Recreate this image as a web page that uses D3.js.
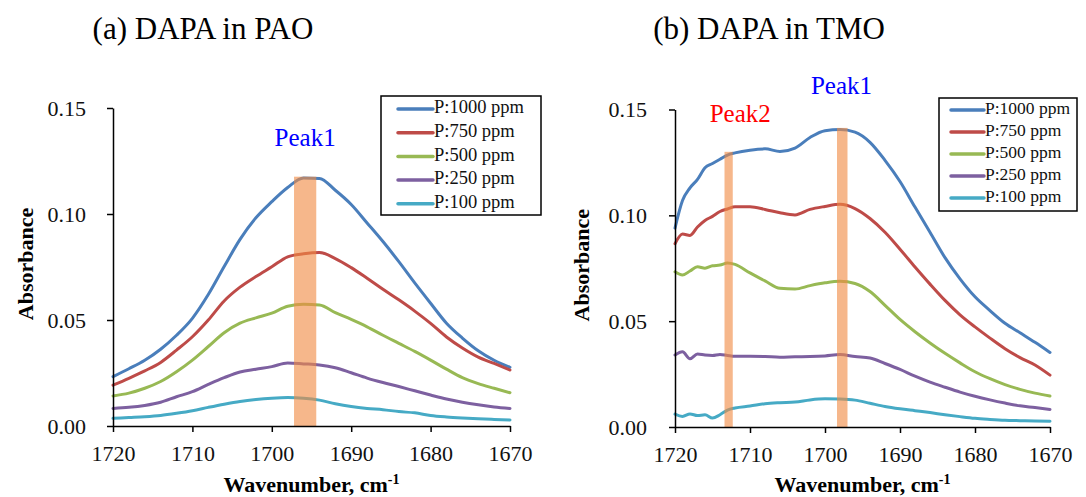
<!DOCTYPE html>
<html><head><meta charset="utf-8">
<script src="https://cdn.jsdelivr.net/npm/d3@7"></script>
<style>
body{margin:0;background:#fff;}
svg{display:block;}
svg text{font-family:"Liberation Serif","Times New Roman",Times,"DejaVu Serif","Noto Serif",serif !important;}
</style></head>
<body><svg id="c" width="1086" height="497"></svg>
<script>
// ---------- data ----------
const seriesNames = ["P:1000 ppm","P:750 ppm","P:500 ppm","P:250 ppm","P:100 ppm"];
const seriesColors = ["#4A7EBB","#BE4B48","#98B954","#7D60A0","#46AAC5"];
const xTicks = [1720,1710,1700,1690,1680,1670];
const yTicks = [0,0.05,0.10,0.15];

// Panel (a): DAPA in PAO
const waveA = [1720,1718,1716,1714,1712,1710,1708,1706,1704,1702,1700,1698,1696,1694,1692,1690,1688,1686,1684,1682,1680,1678,1676,1674,1672,1670];
const a1000 = [0.0233,0.0270,0.0310,0.0362,0.0428,0.0508,0.0620,0.0752,0.0880,0.0982,0.1058,0.1125,0.1170,0.1168,0.1112,0.1045,0.0958,0.0870,0.0775,0.0675,0.0579,0.0485,0.0415,0.0355,0.0310,0.0277];
const a750  = [0.0193,0.0225,0.0260,0.0300,0.0358,0.0421,0.0500,0.0590,0.0655,0.0705,0.0751,0.0798,0.0812,0.0818,0.0790,0.0747,0.0697,0.0645,0.0595,0.0542,0.0484,0.0420,0.0368,0.0325,0.0295,0.0264];
const a500  = [0.0142,0.0155,0.0178,0.0210,0.0256,0.0311,0.0375,0.0440,0.0485,0.0510,0.0532,0.0565,0.0574,0.0571,0.0535,0.0503,0.0468,0.0428,0.0390,0.0352,0.0311,0.0268,0.0228,0.0200,0.0178,0.0157];
const a250  = [0.0083,0.0088,0.0097,0.0112,0.0138,0.0162,0.0196,0.0228,0.0255,0.0268,0.0280,0.0297,0.0293,0.0288,0.0275,0.0251,0.0226,0.0205,0.0186,0.0166,0.0146,0.0127,0.0112,0.0100,0.0090,0.0083];
const a100  = [0.0036,0.0040,0.0044,0.0050,0.0060,0.0072,0.0088,0.0103,0.0116,0.0125,0.0131,0.0134,0.0131,0.0122,0.0105,0.0092,0.0083,0.0077,0.0068,0.0062,0.0050,0.0043,0.0038,0.0034,0.0031,0.0028];

// Panel (b): DAPA in TMO
const waveB = [1720,1719,1718,1717,1716,1715,1714,1713,1712,1710,1708,1706,1704,1702,1700,1698,1696,1694,1692,1690,1688,1686,1684,1682,1680,1678,1676,1674,1672,1670];
const b1000 = [0.0940,0.1070,0.1130,0.1170,0.1225,0.1245,0.1265,0.1285,0.1295,0.1308,0.1314,0.1302,0.1318,0.1368,0.1400,0.1405,0.1393,0.1345,0.1260,0.1160,0.1039,0.0920,0.0800,0.0700,0.0615,0.0550,0.0490,0.0445,0.0400,0.0352];
const b750  = [0.0866,0.0912,0.0905,0.0945,0.0976,0.0995,0.1018,0.1030,0.1040,0.1040,0.1028,0.1012,0.1002,0.1028,0.1042,0.1052,0.1032,0.0985,0.0920,0.0840,0.0756,0.0675,0.0598,0.0530,0.0473,0.0420,0.0370,0.0328,0.0293,0.0245];
const b500  = [0.0733,0.0718,0.0737,0.0757,0.0750,0.0762,0.0765,0.0775,0.0768,0.0728,0.0690,0.0655,0.0652,0.0668,0.0681,0.0688,0.0678,0.0640,0.0575,0.0508,0.0450,0.0397,0.0348,0.0303,0.0261,0.0228,0.0200,0.0178,0.0160,0.0146];
const b250  = [0.0340,0.0355,0.0322,0.0345,0.0340,0.0338,0.0343,0.0338,0.0334,0.0334,0.0333,0.0330,0.0332,0.0333,0.0336,0.0342,0.0333,0.0326,0.0300,0.0272,0.0240,0.0212,0.0188,0.0165,0.0145,0.0128,0.0113,0.0100,0.0092,0.0083];
const b100  = [0.0061,0.0050,0.0062,0.0054,0.0058,0.0042,0.0058,0.0080,0.0090,0.0099,0.0110,0.0115,0.0118,0.0128,0.0133,0.0132,0.0127,0.0112,0.0097,0.0086,0.0077,0.0068,0.0058,0.0049,0.0041,0.0036,0.0032,0.0030,0.0028,0.0027];

// Highlight bands: [from, to, top absorbance]
const bandsA = [[1697.2,1694.4,0.1176]];
const bandsB = [[1713.4,1712.3,0.1300],[1698.4,1697.0,0.1413]];

// Peak labels: [text, wavenumber, absorbance, colour]
const labelsA = [["Peak1",1695.8,0.135,"#0000FF"]];
const labelsB = [["Peak2",1711.3,0.147,"#FF0000"],["Peak1",1697.8,0.160,"#0000FF"]];

// ---------- drawing ----------
const svg = d3.select("#c");

function panel(opt){
  const g = svg.append("g");
  const x = d3.scaleLinear().domain([1720,1670]).range([opt.x0,opt.x1]);
  const y = d3.scaleLinear().domain([0,0.15]).range([opt.y0,opt.y1]);

  const line = d3.line().x(d=>x(d[0])).y(d=>y(d[1])).curve(d3.curveMonotoneX);
  opt.series.forEach((vals,i)=>{
    g.append("path")
      .datum(opt.wave.map((w,k)=>[w,vals[k]]))
      .attr("d",line).attr("fill","none")
      .attr("stroke",seriesColors[i]).attr("stroke-width",3)
      .attr("stroke-linejoin","round").attr("stroke-linecap","round");
  });

  opt.bands.forEach(b=>{
    g.append("rect")
      .attr("x",x(b[0])).attr("width",x(b[1])-x(b[0]))
      .attr("y",y(b[2])).attr("height",y(0)-y(b[2]))
      .attr("fill","#F08A44").attr("opacity",0.62);
  });

  // axes
  const ya = g.append("g").attr("transform",`translate(${opt.x0},0)`)
    .call(d3.axisLeft(y).tickValues(yTicks).tickFormat(d3.format(".2f")).tickSize(6).tickSizeOuter(0));
  const xa = g.append("g").attr("transform",`translate(0,${opt.y0})`)
    .call(d3.axisBottom(x).tickValues(xTicks).tickFormat(d3.format("d")).tickSize(6).tickSizeOuter(0));
  [ya,xa].forEach(a=>{
    a.select(".domain").attr("stroke","#000").attr("stroke-width",1.5);
    a.selectAll(".tick line").attr("stroke","#000").attr("stroke-width",1.5);
    a.selectAll("text").attr("font-size",22).attr("fill","#111");
  });
  ya.selectAll("text").attr("x",opt.ylabX).attr("dy","0.34em");
  xa.selectAll("text").attr("y",19);

  // peak labels
  opt.labels.forEach(l=>{
    g.append("text").attr("x",x(l[1])).attr("y",y(l[2]))
      .attr("text-anchor","middle").attr("dominant-baseline","middle")
      .attr("font-size",25).attr("fill",l[3]).text(l[0]);
  });

  // titles
  g.append("text").attr("x",opt.titleX).attr("y",39).attr("text-anchor","middle")
    .attr("font-size",31).attr("fill","#000").text(opt.title);
  g.append("text").attr("transform",`translate(${opt.ytX},${(opt.y0+opt.y1)/2 - 3}) rotate(-90)`)
    .attr("text-anchor","middle").attr("dominant-baseline","middle")
    .attr("font-size",22).attr("font-weight","bold").attr("fill","#000").text("Absorbance");
  const xt = g.append("text").attr("x",(opt.x0+opt.x1)/2).attr("y",492).attr("text-anchor","middle")
    .attr("font-size",22).attr("font-weight","bold").attr("fill","#000");
  xt.append("tspan").text("Wavenumber, cm");
  xt.append("tspan").attr("dy",-8).attr("font-size",14).text("-1");

  // legend
  const lg = g.append("g");
  lg.append("rect").attr("x",opt.lg.x).attr("y",opt.lg.y).attr("width",opt.lg.w).attr("height",opt.lg.h)
    .attr("fill","#fff").attr("stroke","#000").attr("stroke-width",1.5);
  seriesNames.forEach((n,i)=>{
    const cy = opt.lg.y + opt.lg.r0 + i*opt.lg.dy;
    lg.append("line").attr("x1",opt.lg.lx0).attr("x2",opt.lg.lx1).attr("y1",cy).attr("y2",cy)
      .attr("stroke",seriesColors[i]).attr("stroke-width",3.5).attr("stroke-linecap","round");
    lg.append("text").attr("x",opt.lg.lx1+1).attr("y",cy).attr("dominant-baseline","middle")
      .attr("font-size",opt.lg.fs).attr("fill","#111").text(n);
  });
}

panel({x0:113,x1:510,y0:426,y1:108,wave:waveA,series:[a1000,a750,a500,a250,a100],
  bands:bandsA,labels:labelsA,title:"(a) DAPA in PAO",titleX:203,ytX:28,ylabX:-27,
  lg:{x:381,y:96,w:160,h:119,r0:13,dy:23.7,lx0:398,lx1:433,fs:18.5}});
panel({x0:675,x1:1050,y0:427,y1:109.5,wave:waveB,series:[b1000,b750,b500,b250,b100],
  bands:bandsB,labels:labelsB,title:"(b) DAPA in TMO",titleX:769,ytX:584,ylabX:-28,
  lg:{x:939,y:98,w:138,h:113,r0:12,dy:22,lx0:951,lx1:984,fs:17.5}});
</script></body></html>
